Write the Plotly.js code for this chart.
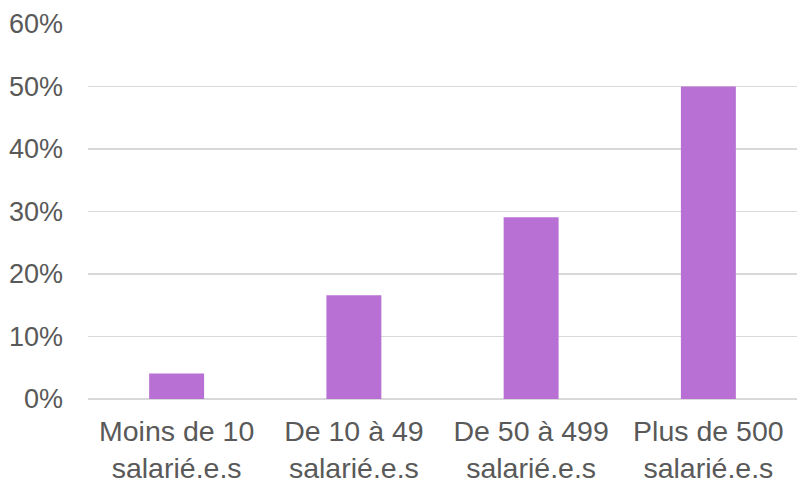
<!DOCTYPE html>
<html>
<head>
<meta charset="utf-8">
<script src="https://cdn.plot.ly/plotly-3.0.1.min.js"></script>
<style>html,body{margin:0;padding:0;background:#fff;}#chart{width:797px;height:486px;}</style>
</head>
<body>
<div id="chart"></div>
<script>
var categories = ["Moins de 10<br>salarié.e.s", "De 10 à 49<br>salarié.e.s", "De 50 à 499<br>salarié.e.s", "Plus de 500<br>salarié.e.s"];
var values = [0.041, 0.166, 0.291, 0.500];
var yTickVals = [0, 0.1, 0.2, 0.3, 0.4, 0.5, 0.6];
var yTickText = ["0%", "10%", "20%", "30%", "40%", "50%", "60%"];

var trace = {
  type: 'bar',
  x: categories,
  y: values,
  marker: {color: '#B870D4', line: {width: 0}},
  hoverinfo: 'none'
};

var layout = {
  width: 797,
  height: 486,
  margin: {l: 88, r: 0, t: 24, b: 87},
  paper_bgcolor: '#ffffff',
  plot_bgcolor: '#ffffff',
  bargap: 0.69,
  showlegend: false,
  font: {family: 'Liberation Sans, Arial, sans-serif', color: '#595959'},
  xaxis: {
    type: 'category',
    tickfont: {size: 28.5, color: '#595959'},
    showgrid: false,
    showline: false,
    zeroline: false,
    ticks: '',
    ticklabelstandoff: 12
  },
  yaxis: {
    range: [0, 0.6],
    tickvals: yTickVals,
    ticktext: yTickText,
    tickfont: {size: 27, color: '#595959'},
    showgrid: true,
    gridcolor: '#D9D9D9',
    gridwidth: 1.5,
    zeroline: true,
    zerolinecolor: '#D9D9D9',
    zerolinewidth: 1.5,
    showline: false,
    ticks: '',
    ticklabelstandoff: 24
  }
};

Plotly.newPlot('chart', [trace], layout, {staticPlot: true, displayModeBar: false});
</script>
</body>
</html>
